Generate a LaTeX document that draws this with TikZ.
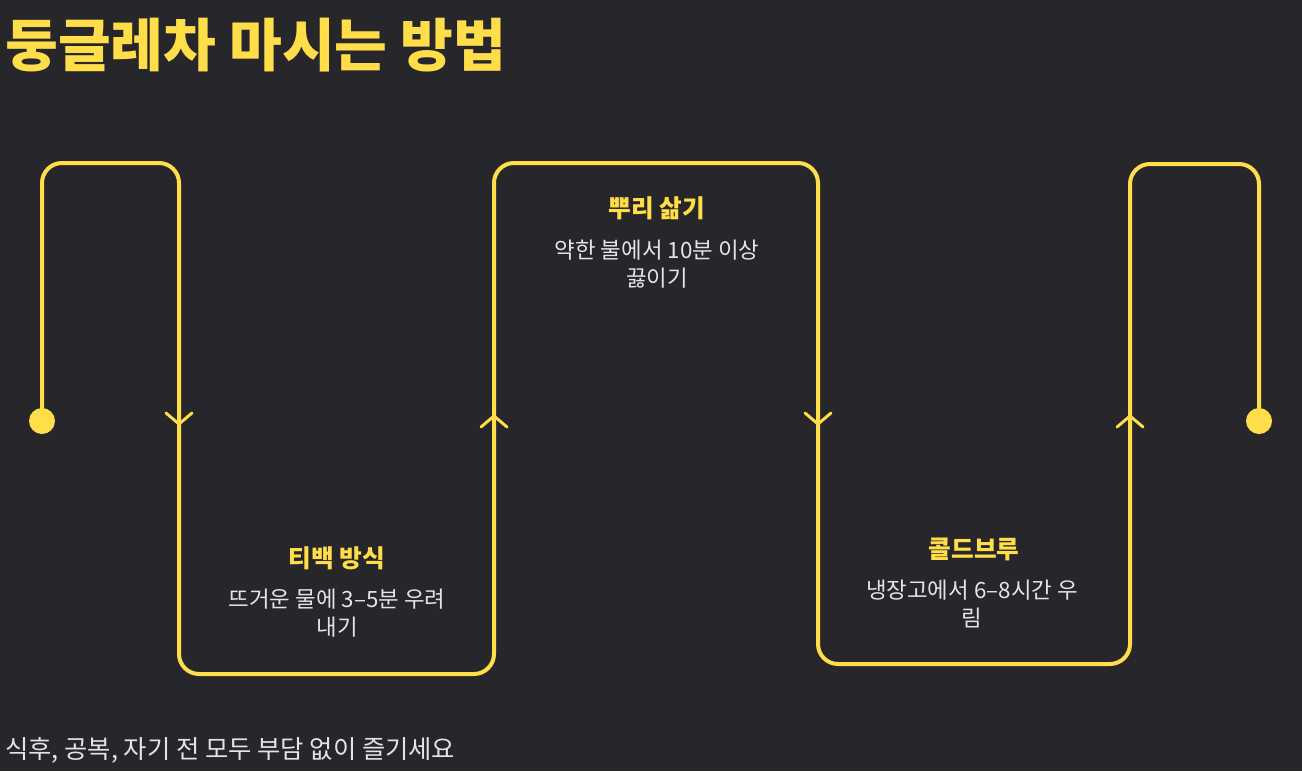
\documentclass[tikz,border=0pt]{standalone}
\usepackage{fontspec}
\setmainfont{Noto Sans CJK KR}
\definecolor{bg}{RGB}{39,39,43}
\definecolor{ylw}{RGB}{255,222,74}
\definecolor{txt}{RGB}{228,228,231}
\begin{document}
\begin{tikzpicture}[x=0.75pt,y=-0.75pt,
  flow/.style={draw=ylw,line width=3pt,rounded corners=15pt},
  chev/.style={draw=ylw,line width=2.2pt,line cap=round,line join=round},
  dot/.style={circle,fill=ylw,inner sep=0pt,minimum size=19.5pt},
  steptitle/.style={text=ylw,font=\fontsize{18.5pt}{22pt}\selectfont\bfseries,inner sep=0pt},
  stepdesc/.style={text=txt,font=\fontsize{16.8pt}{21pt}\selectfont,align=center,inner sep=0pt},
  maintitle/.style={text=ylw,font=\fontsize{43pt}{50pt}\selectfont\bfseries,inner sep=0pt,anchor=west},
  foot/.style={text=txt,font=\fontsize{19pt}{22pt}\selectfont,inner sep=0pt,anchor=west}]
\fill[bg] (0,0) rectangle (1302,771);
\useasboundingbox (0,0) rectangle (1302,771);
% path points
\node[dot] (start) at (42,421) {};
\node[dot] (end) at (1259,421) {};
\coordinate (p1) at (42,163);
\coordinate (p2) at (179,163);
\coordinate (p3) at (179,674);
\coordinate (p4) at (494,674);
\coordinate (p5) at (494,163);
\coordinate (p6) at (818,163);
\coordinate (p7) at (818,664);
\coordinate (p8) at (1130,664);
\coordinate (p9) at (1130,164);
\coordinate (p10) at (1259,164);
\draw[flow] (start.center) -- (p1) -- (p2) -- (p3) -- (p4) -- (p5) -- (p6) -- (p7) -- (p8) -- (p9) -- (p10) -- (end.center);
% chevrons
\coordinate (a1) at (179,424);
\coordinate (a2) at (494,416);
\coordinate (a3) at (818,424);
\coordinate (a4) at (1130,416);
\draw[chev] (a1) ++(-13,-11) -- (a1) -- ++(13,-11);
\draw[chev] (a2) ++(-13,11) -- (a2) -- ++(13,11);
\draw[chev] (a3) ++(-13,-11) -- (a3) -- ++(13,-11);
\draw[chev] (a4) ++(-13,11) -- (a4) -- ++(13,11);
% texts
\node[maintitle] (title) at (5,45) {둥글레차 마시는 방법};
\node[steptitle] (t1) at (337,558) {티백 방식};
\node[stepdesc] (d1) at (337,613) {뜨거운 물에 3–5분 우려\\내기};
\node[steptitle] (t2) at (657,208) {뿌리 삶기};
\node[stepdesc] (d2) at (657,264) {약한 불에서 10분 이상\\끓이기};
\node[steptitle] (t3) at (974,549) {콜드브루};
\node[stepdesc] (d3) at (972,604) {냉장고에서 6–8시간 우\\림};
\node[foot] (footer) at (5,750) {식후, 공복, 자기 전 모두 부담 없이 즐기세요};
\end{tikzpicture}
\end{document}
